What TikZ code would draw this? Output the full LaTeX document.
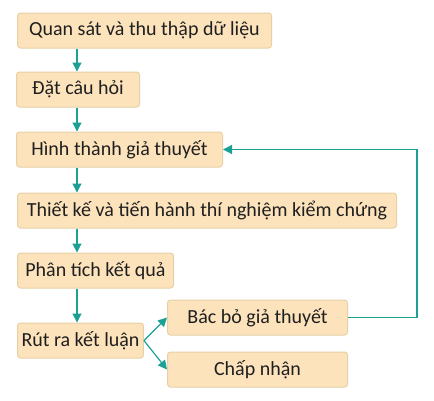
\documentclass[tikz,border=0pt]{standalone}
\usepackage{fontspec}
\setmainfont{Carlito}
\usetikzlibrary{arrows.meta}
\definecolor{boxfill}{RGB}{252,227,188}
\definecolor{boxline}{RGB}{230,208,165}
\definecolor{arrowcol}{RGB}{28,160,150}
\begin{document}
\begin{tikzpicture}[x=1pt,y=-1pt,
  stage/.style={shape=rectangle,rounded corners=3pt,draw=boxline,fill=boxfill,line width=1pt,
    minimum height=35pt,inner xsep=4pt,anchor=west,text=black!88,font=\fontsize{20}{23}\selectfont},
  flow/.style={draw=arrowcol,line width=1.2pt,-{Triangle[length=9pt,width=9pt]}}]
  \useasboundingbox (0,0) rectangle (434,400);
  \node[stage,minimum width=254pt] (observe) at (17,30.5) {Quan sát và thu thập dữ liệu};
  \node[stage,minimum width=123pt] (ask) at (16,89.5) {Đặt câu hỏi};
  \node[stage,minimum width=206pt] (hypo) at (16,149.5) {Hình thành giả thuyết};
  \node[stage,minimum width=379pt] (test) at (17,210.5) {Thiết kế và tiến hành thí nghiệm kiểm chứng};
  \node[stage,minimum width=156pt] (analyse) at (17,270.5) {Phân tích kết quả};
  \node[stage,minimum width=120pt] (conclude) at (17,340.5) {Rút ra kết luận};
  \node[stage,minimum width=180pt] (reject) at (167,317.5) {Bác bỏ giả thuyết};
  \node[stage,minimum width=180pt] (accept) at (167,369.5) {Chấp nhận};
  \coordinate (spine) at (77,0);
  \coordinate (loop) at (417,0);

  \path[flow] (observe.south -| spine) -- (ask.north -| spine);
  \path[flow] (ask.south -| spine) -- (hypo.north -| spine);
  \path[flow] (hypo.south -| spine) -- (test.north -| spine);
  \path[flow] (test.south -| spine) -- (analyse.north -| spine);
  \path[flow] (analyse.south -| spine) -- (conclude.north -| spine);
  \path[flow] (conclude.east) -- (reject.west);
  \path[flow] (conclude.east) -- (accept.west);
  \path[flow] (reject.east) -- (reject.east -| loop) -- (hypo.east -| loop) -- (hypo.east);

\end{tikzpicture}
\end{document}
